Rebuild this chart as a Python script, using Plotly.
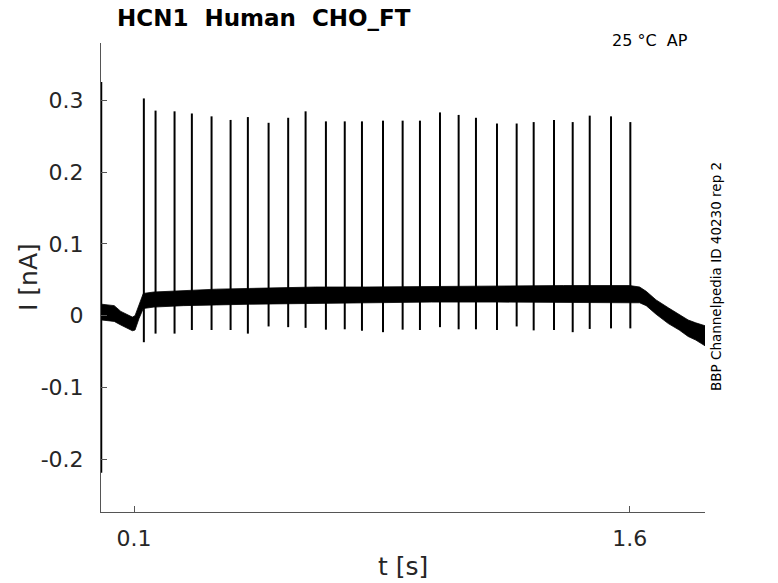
import plotly.graph_objects as go

# ---- data ----
# spike times [s], peak currents [nA], post-spike dips [nA]
spike_t = [0.1297, 0.1651, 0.2226, 0.2750, 0.3346, 0.3922, 0.4445, 0.5072, 0.5665,
           0.6192, 0.6807, 0.7377, 0.7898, 0.8534, 0.9129, 0.9653, 1.0259, 1.0824,
           1.1348, 1.1984, 1.2580, 1.3095, 1.3710, 1.4276, 1.4791, 1.5436, 1.6020]
spike_peak = [0.303, 0.286, 0.285, 0.282, 0.278, 0.273, 0.277, 0.269, 0.276,
              0.285, 0.271, 0.271, 0.271, 0.272, 0.272, 0.272, 0.2835, 0.280,
              0.276, 0.268, 0.268, 0.270, 0.273, 0.270, 0.279, 0.278, 0.270]
spike_dip = [-0.037, -0.025, -0.025, -0.020, -0.020, -0.020, -0.025, -0.015, -0.016,
             -0.017, -0.0195, -0.019, -0.021, -0.023, -0.0195, -0.020, -0.016, -0.019,
             -0.019, -0.020, -0.015, -0.0205, -0.020, -0.023, -0.0185, -0.0177, -0.0177]

# noisy baseline envelope (upper / lower edge of the trace band)
base_t = [0.002, 0.02, 0.04, 0.06, 0.08, 0.095, 0.103, 0.115, 0.128, 0.16, 0.25,
          0.35, 0.45, 0.55, 0.65, 0.80, 1.00, 1.20, 1.40, 1.60, 1.63, 1.65, 1.68,
          1.717, 1.75, 1.777, 1.80, 1.828]
base_hi = [0.016, 0.015, 0.014, 0.006, 0.002, -0.002, 0.000, 0.016, 0.031, 0.033, 0.035,
           0.037, 0.038, 0.039, 0.040, 0.040, 0.041, 0.041, 0.042, 0.042, 0.040, 0.034, 0.022,
           0.011, 0.002, -0.006, -0.010, -0.014]
base_lo = [-0.006, -0.007, -0.008, -0.013, -0.018, -0.021, -0.020, -0.004, 0.010, 0.012, 0.014,
           0.015, 0.016, 0.017, 0.018, 0.018, 0.019, 0.019, 0.019, 0.018, 0.018, 0.014, 0.002,
           -0.011, -0.020, -0.029, -0.034, -0.042]

# capacitive transient at stimulus onset
trans_t = [0.0015, 0.0015]
trans_i = [0.326, -0.219]

x_range = [0.0, 1.828]
y_range = [-0.2738, 0.3803]
x_ticks = [0.1, 1.6]
x_ticktext = ["0.1", "1.6"]
y_ticks = [-0.2, -0.1, 0, 0.1, 0.2, 0.3]
y_ticktext = ["-0.2", "-0.1", "0", "0.1", "0.2", "0.3"]

FONT = "DejaVu Sans"
TXT = "#262626"
AX = "#555555"

fig = go.Figure()

# baseline band
fig.add_trace(go.Scatter(
    x=base_t + base_t[::-1],
    y=base_hi + base_lo[::-1],
    fill="toself", fillcolor="black",
    line=dict(color="black", width=0.8),
    mode="lines", hoverinfo="skip", showlegend=False))

# spikes
sx, sy = [], []
for t, p, d in zip(spike_t, spike_peak, spike_dip):
    sx += [t, t, None]
    sy += [p, d, None]
fig.add_trace(go.Scatter(x=sx, y=sy, mode="lines",
                         line=dict(color="black", width=2),
                         hoverinfo="skip", showlegend=False))

# onset transient
fig.add_trace(go.Scatter(x=trans_t, y=trans_i, mode="lines",
                         line=dict(color="black", width=1.5),
                         hoverinfo="skip", showlegend=False))

fig.update_layout(
    width=778, height=583,
    margin=dict(l=101, r=73, t=43, b=71, autoexpand=False),
    paper_bgcolor="white", plot_bgcolor="white",
    font=dict(family=FONT, color=TXT),
    showlegend=False,
)
fig.update_xaxes(range=x_range, tickvals=x_ticks, ticktext=x_ticktext, automargin=False,
                 showgrid=False, zeroline=False, showline=True, linecolor=AX, linewidth=1,
                 ticks="inside", ticklen=6, tickcolor=AX,
                 tickfont=dict(size=22, color=TXT, family=FONT), ticklabelstandoff=7)
fig.update_yaxes(range=y_range, tickvals=y_ticks, ticktext=y_ticktext, automargin=False,
                 showgrid=False, zeroline=False, showline=True, linecolor=AX, linewidth=1,
                 ticks="inside", ticklen=6, tickcolor=AX,
                 tickfont=dict(size=22, color=TXT, family=FONT), ticklabelstandoff=12)

NB = "\u00a0"
ann = [
    dict(text="<b>HCN1" + NB * 2 + "Human" + NB * 2 + "CHO_FT</b>", x=0.0232, y=1.054,
         xanchor="left", yanchor="middle", font=dict(size=23, color="black")),
    dict(text="25 °C" + NB * 2 + "AP", x=0.975, y=1.005, xanchor="right", yanchor="middle",
         font=dict(size=16, color="black")),
    dict(text="BBP Channelpedia ID 40230 rep 2", x=1.018, y=0.503, textangle=-90,
         xanchor="center", yanchor="middle", font=dict(size=13.5, color="black")),
    dict(text="I [nA]", x=-0.12, y=0.5, textangle=-90, xanchor="center", yanchor="middle",
         font=dict(size=25, color=TXT)),
    dict(text="t [s]", x=0.5, y=-0.117, xanchor="center", yanchor="middle",
         font=dict(size=25, color=TXT)),
]
for a in ann:
    a.update(xref="paper", yref="paper", showarrow=False)
    fig.add_annotation(**a)

fig.write_html("out.html", config={"displayModeBar": False},
               post_script="document.body.style.margin='0px';document.body.style.overflow='hidden';")
